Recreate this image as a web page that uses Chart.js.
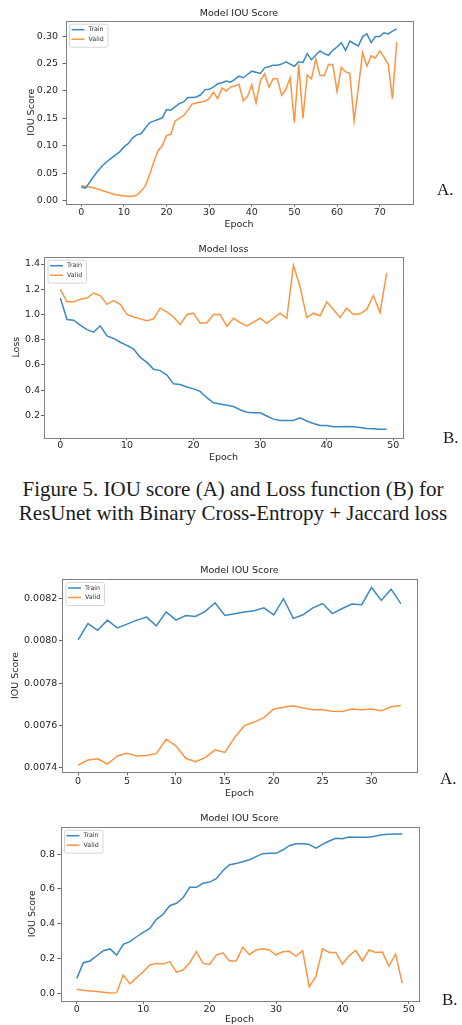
<!DOCTYPE html>
<html><head><meta charset="utf-8">
<script src="https://cdn.jsdelivr.net/npm/chart.js@4.4.0/dist/chart.umd.min.js"></script>
<style>
html,body{margin:0;padding:0;background:#fff;}
body{width:462px;height:1025px;position:relative;overflow:hidden;}
canvas{position:absolute;left:0;}
.lbl{position:absolute;font-family:'Liberation Serif','Times New Roman',serif;font-size:17px;line-height:20px;color:#1a1a1a;white-space:nowrap;}
.cap{position:absolute;left:0;width:466px;top:477px;text-align:center;font-family:'Liberation Serif','Times New Roman',serif;font-size:21px;line-height:24px;color:#1a1a1a;white-space:nowrap;}
</style></head><body>
<canvas id="c1" width="462" height="232" style="top:0px"></canvas>
<canvas id="c2" width="462" height="228" style="top:236px"></canvas>
<canvas id="c3" width="462" height="244" style="top:558px"></canvas>
<canvas id="c4" width="462" height="222" style="top:805px"></canvas>
<div class="lbl" style="left:437px;top:180px">A.</div>
<div class="lbl" style="left:443px;top:428px">B.</div>
<div class="cap">Figure 5. IOU score (A) and Loss function (B) for<br>ResUnet with Binary Cross-Entropy + Jaccard loss</div>
<div class="lbl" style="left:440px;top:769px">A.</div>
<div class="lbl" style="left:442px;top:990px">B.</div>
<script>
// ---- Data (one value per epoch, epoch = index) ----
const seriesNames = ['Train', 'Valid'];

// Chart 1: Model IOU Score (ResUnet, BCE + Jaccard)
const iouTrain1 = [0.025,0.023,0.034,0.045,0.055,0.064,0.071,0.077,0.083,0.089,
  0.098,0.104,0.114,0.120,0.122,0.132,0.142,0.145,0.148,0.151,
  0.166,0.165,0.171,0.177,0.180,0.188,0.188,0.189,0.193,0.202,
  0.203,0.207,0.213,0.215,0.218,0.216,0.221,0.227,0.224,0.230,
  0.236,0.234,0.232,0.242,0.244,0.247,0.247,0.249,0.253,0.249,
  0.245,0.253,0.252,0.268,0.257,0.265,0.273,0.268,0.265,0.274,
  0.280,0.288,0.274,0.291,0.286,0.282,0.299,0.304,0.288,0.299,
  0.299,0.306,0.304,0.309,0.313];
const iouValid1 = [0.027,0.026,0.025,0.023,0.021,0.018,0.016,0.013,0.011,0.010,
  0.009,0.008,0.008,0.010,0.017,0.027,0.047,0.070,0.091,0.100,
  0.119,0.121,0.145,0.150,0.155,0.165,0.176,0.178,0.180,0.181,
  0.186,0.198,0.186,0.205,0.200,0.207,0.209,0.212,0.182,0.190,
  0.211,0.178,0.218,0.231,0.207,0.222,0.222,0.192,0.203,0.224,
  0.142,0.248,0.150,0.229,0.222,0.258,0.228,0.228,0.248,0.248,
  0.199,0.243,0.235,0.232,0.145,0.205,0.270,0.245,0.264,0.260,
  0.273,0.262,0.249,0.186,0.289];
const xTicks1 = [0,10,20,30,40,50,60,70];
const xLabels1 = ['0','10','20','30','40','50','60','70'];
const yTicks1 = [0,0.05,0.10,0.15,0.20,0.25,0.30];
const yLabels1 = ['0.00','0.05','0.10','0.15','0.20','0.25','0.30'];

// Chart 2: Model loss
const lossTrain2 = [1.13,0.96,0.955,0.915,0.88,0.86,0.91,0.83,0.81,0.78,
  0.755,0.725,0.66,0.62,0.565,0.555,0.52,0.45,0.445,0.425,
  0.41,0.39,0.34,0.30,0.29,0.28,0.27,0.245,0.225,0.22,
  0.22,0.195,0.17,0.16,0.16,0.16,0.18,0.155,0.135,0.12,
  0.12,0.11,0.11,0.112,0.11,0.103,0.095,0.093,0.09,0.09];
const lossValid2 = [1.20,1.10,1.10,1.12,1.13,1.17,1.15,1.08,1.11,1.08,
  1.00,0.98,0.965,0.95,0.965,1.05,1.02,0.98,0.92,1.00,
  1.01,0.93,0.935,1.00,1.00,0.905,0.97,0.935,0.91,0.94,
  0.97,0.93,0.97,1.01,0.97,1.39,1.22,0.975,1.01,0.99,
  1.10,1.04,0.975,1.05,1.00,1.005,1.04,1.15,1.015,1.33];
const xTicks2 = [0,10,20,30,40,50];
const xLabels2 = ['0','10','20','30','40','50'];
const yTicks2 = [0.2,0.4,0.6,0.8,1.0,1.2,1.4];
const yLabels2 = ['0.2','0.4','0.6','0.8','1.0','1.2','1.4'];

// Chart 3: Model IOU Score (second model, A)
const iouTrain3 = [0.008004,0.008081,0.008049,0.008097,0.008060,0.008078,0.008097,0.008111,0.008070,0.008136,
  0.008097,0.008119,0.008114,0.008138,0.008179,0.008119,0.008127,0.008135,0.008141,0.008155,
  0.008122,0.008198,0.008105,0.008122,0.008155,0.008175,0.008128,0.008152,0.008173,0.008170,
  0.008251,0.008190,0.008243,0.008175];
const iouValid3 = [0.007413,0.007437,0.007443,0.007418,0.007456,0.007469,0.007456,0.007458,0.007467,0.007535,
  0.007504,0.007445,0.007429,0.007448,0.007485,0.007473,0.007543,0.007599,0.007616,0.007637,
  0.007678,0.007686,0.007693,0.007682,0.007674,0.007674,0.007667,0.007666,0.007678,0.007674,
  0.007678,0.007669,0.007688,0.007694];
const xTicks3 = [0,5,10,15,20,25,30];
const xLabels3 = ['0','5','10','15','20','25','30'];
const yTicks3 = [0.0074,0.0076,0.0078,0.0080,0.0082];
const yLabels3 = ['0.0074','0.0076','0.0078','0.0080','0.0082'];

// Chart 4: Model IOU Score (second model, B)
const iouTrain4 = [0.086,0.176,0.186,0.216,0.245,0.255,0.220,0.281,0.297,0.325,
  0.350,0.373,0.425,0.454,0.503,0.517,0.549,0.609,0.609,0.632,
  0.639,0.658,0.704,0.739,0.746,0.756,0.767,0.785,0.802,0.804,
  0.804,0.823,0.848,0.859,0.859,0.855,0.834,0.855,0.875,0.890,
  0.888,0.898,0.896,0.896,0.896,0.903,0.911,0.913,0.915,0.915];
const iouValid4 = [0.023,0.018,0.014,0.010,0.006,0.002,0.004,0.105,0.054,0.090,
  0.124,0.163,0.172,0.168,0.182,0.122,0.134,0.176,0.239,0.172,
  0.166,0.220,0.233,0.186,0.186,0.264,0.222,0.249,0.256,0.249,
  0.220,0.239,0.241,0.214,0.245,0.038,0.096,0.255,0.235,0.235,
  0.168,0.216,0.247,0.186,0.249,0.235,0.237,0.157,0.226,0.057];
const xTicks4 = [0,10,20,30,40,50];
const xLabels4 = ['0','10','20','30','40','50'];
const yTicks4 = [0.0,0.2,0.4,0.6,0.8];
const yLabels4 = ['0.0','0.2','0.4','0.6','0.8'];

// ---- Styling ----
const BLUE = '#3a89c2', ORANGE = '#fd9440';
const FONT = '"DejaVu Sans", Verdana, sans-serif';
const TXT = '#262626';

const framePlugin = {
  id: 'frame',
  afterDatasetsDraw(chart) {
    const ca = chart.chartArea, ctx = chart.ctx;
    ctx.save();
    ctx.strokeStyle = '#808080'; ctx.lineWidth = 1;
    ctx.strokeRect(Math.round(ca.left) + 0.5, Math.round(ca.top) + 0.5,
      Math.round(ca.right - ca.left), Math.round(ca.bottom - ca.top));
    ctx.restore();
  }
};
const titlePlugin = {
  id: 'plotTitle',
  afterDraw(chart, args, o) {
    const ca = chart.chartArea, ctx = chart.ctx;
    ctx.save();
    ctx.font = '9.5px ' + FONT; ctx.fillStyle = '#222';
    ctx.textAlign = 'center'; ctx.textBaseline = 'middle';
    ctx.fillText(o.text, (ca.left + ca.right) / 2, o.y);
    ctx.restore();
  }
};
const legendPlugin = {
  id: 'boxLegend',
  afterDatasetsDraw(chart, args, o) {
    const ca = chart.chartArea, ctx = chart.ctx;
    const bx = ca.left + o.dx, by = ca.top + o.dy, w = o.w, h = o.h;
    ctx.save();
    ctx.beginPath();
    if (ctx.roundRect) ctx.roundRect(bx + 0.5, by + 0.5, w, h, 2); else ctx.rect(bx + 0.5, by + 0.5, w, h);
    ctx.fillStyle = 'rgba(255,255,255,0.85)'; ctx.fill();
    ctx.strokeStyle = '#d6d6d6'; ctx.lineWidth = 1; ctx.stroke();
    ctx.font = '6.3px ' + FONT; ctx.textBaseline = 'middle'; ctx.textAlign = 'left';
    chart.data.datasets.forEach((ds, i) => {
      const yy = by + o.rows[i];
      ctx.strokeStyle = ds.borderColor; ctx.lineWidth = 1.5;
      ctx.beginPath(); ctx.moveTo(bx + 2.5, yy); ctx.lineTo(bx + 15.5, yy); ctx.stroke();
      ctx.fillStyle = '#333'; ctx.fillText(ds.label, bx + 19.5, yy);
    });
    ctx.restore();
  }
};

function makeChart(id, c) {
  const tickFont = {family: FONT, size: 9.5};
  const mk = (arr) => arr.map((v, i) => ({x: i, y: v}));
  return new Chart(document.getElementById(id), {
    type: 'line',
    data: {datasets: [
      {label: seriesNames[0], data: mk(c.train), borderColor: BLUE, borderWidth: 1.5, pointRadius: 0, tension: 0, fill: false},
      {label: seriesNames[1], data: mk(c.valid), borderColor: ORANGE, borderWidth: 1.5, pointRadius: 0, tension: 0, fill: false}
    ]},
    options: {
      responsive: false, animation: false, devicePixelRatio: 1,
      layout: {padding: {left: 0, top: c.T, right: 462 - c.R, bottom: 0}},
      plugins: {
        legend: {display: false}, title: {display: false}, tooltip: {enabled: false},
        plotTitle: {text: c.title, y: c.titleY},
        boxLegend: {dx: 3.5, dy: 3, w: 38.5, h: 23, rows: [6, 15.5]}
      },
      scales: {
        x: {
          type: 'linear', min: c.xMin, max: c.xMax,
          afterBuildTicks: s => { s.ticks = c.xTicks.map(v => ({value: v})); },
          afterFit: s => { s.height = c.H - c.B; },
          ticks: {font: tickFont, color: TXT, padding: c.xPad, maxRotation: 0, autoSkip: false,
            callback: (v, i) => c.xLabels[i]},
          grid: {display: true, drawOnChartArea: false, drawTicks: true, tickLength: 3, tickColor: '#666', tickWidth: 1},
          border: {display: false},
          title: {display: true, text: 'Epoch', font: tickFont, color: TXT, padding: {top: 0, bottom: c.epochPad}}
        },
        y: {
          type: 'linear', min: c.yMin, max: c.yMax,
          afterBuildTicks: s => { s.ticks = c.yTicks.map(v => ({value: v})); },
          afterFit: s => { s.width = c.L; },
          ticks: {font: tickFont, color: TXT, padding: c.yPad, autoSkip: false,
            callback: (v, i) => c.yLabels[i]},
          grid: {display: true, drawOnChartArea: false, drawTicks: true, tickLength: 3, tickColor: '#666', tickWidth: 1},
          border: {display: false},
          title: {display: true, text: c.yTitle, font: tickFont, color: TXT, padding: {top: c.yTitleX - 5.7, bottom: 0}}
        }
      }
    },
    plugins: [framePlugin, titlePlugin, legendPlugin]
  });
}

makeChart('c1', {train: iouTrain1, valid: iouValid1, title: 'Model IOU Score', yTitle: 'IOU Score',
  H: 232, L: 65.5, R: 412.5, T: 20.7, B: 203.7, titleY: 13.3, yTitleX: 32, yPad: 4.5, xPad: 0.3, epochPad: 2,
  xMin: -3.7, xMax: 77.7, yMin: -0.0055, yMax: 0.328,
  xTicks: xTicks1, xLabels: xLabels1, yTicks: yTicks1, yLabels: yLabels1});

makeChart('c2', {train: lossTrain2, valid: lossValid2, title: 'Model loss', yTitle: 'Loss',
  H: 228, L: 44, R: 403, T: 20.7, B: 201.5, titleY: 13.3, yTitleX: 17, yPad: 1, xPad: -0.9, epochPad: 0.6,
  xMin: -2.45, xMax: 51.45, yMin: 0.0245, yMax: 1.458,
  xTicks: xTicks2, xLabels: xLabels2, yTicks: yTicks2, yLabels: yLabels2});

makeChart('c3', {train: iouTrain3, valid: iouValid3, title: 'Model IOU Score', yTitle: 'IOU Score',
  H: 244, L: 62, R: 417, T: 21, B: 214.3, titleY: 12.7, yTitleX: 15.7, yPad: 1.7, xPad: 0.7, epochPad: 2.3,
  xMin: -1.65, xMax: 34.65, yMin: 0.007379, yMax: 0.008291,
  xTicks: xTicks3, xLabels: xLabels3, yTicks: yTicks3, yLabels: yLabels3});

makeChart('c4', {train: iouTrain4, valid: iouValid4, title: 'Model IOU Score', yTitle: 'IOU Score',
  H: 222, L: 60.5, R: 418.5, T: 21.7, B: 196, titleY: 14, yTitleX: 32.3, yPad: 2.5, xPad: 0.3, epochPad: 1.3,
  xMin: -2.45, xMax: 51.45, yMin: -0.044, yMax: 0.957,
  xTicks: xTicks4, xLabels: xLabels4, yTicks: yTicks4, yLabels: yLabels4});
</script>
</body></html>
